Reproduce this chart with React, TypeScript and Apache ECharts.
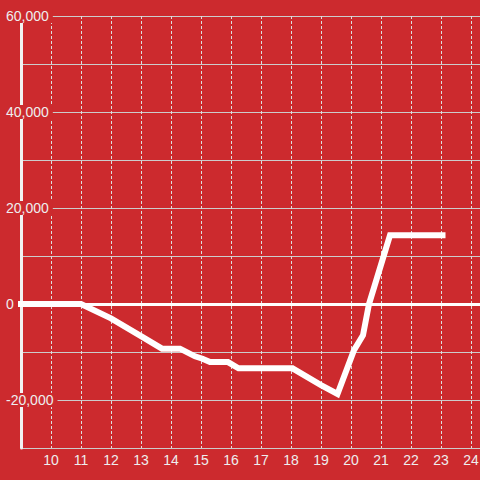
import React, { useEffect, useRef } from 'react';
import * as echarts from 'echarts';

// x positions (hours) and values of the line
const hours = [8.88, 11, 12, 13, 13.7, 14.3, 14.8, 15.05, 15.3, 15.9, 16.25, 18.05, 19, 19.55, 20.1, 20.4, 20.6, 21.3, 23.15];
const values = [0, 0, -3000, -6700, -9300, -9300, -10900, -11400, -12100, -12100, -13400, -13400, -16900, -18750, -9600, -6500, 0, 14300, 14300];

// y tick values that carry a label
const yLabelValues = [60000, 40000, 20000, 0, -20000];

const BG = '#cc2a2e';
const FONT = '"Liberation Sans", Arial, sans-serif';

export default function App() {
  const ref = useRef<HTMLDivElement>(null);

  useEffect(() => {
    if (!ref.current) return;
    const chart = echarts.init(ref.current, undefined, { renderer: 'svg' });
    chart.setOption({
      animation: false,
      backgroundColor: BG,
      textStyle: { fontFamily: FONT },
      grid: {
        left: 21,
        right: 0,
        top: 16,
        bottom: 32,
        containLabel: false,
        outerBoundsMode: 'none',
      },
      xAxis: {
        type: 'value',
        min: 9,
        max: 24.3,
        interval: 1,
        axisLine: { show: false },
        axisTick: { show: false },
        axisLabel: {
          color: '#eeeeee',
          fontSize: 14,
          fontFamily: FONT,
          margin: 5,
          formatter: (v: number) => (Number.isInteger(v) && v > 9 ? String(v) : ''),
        },
        splitLine: { show: true, lineStyle: { color: '#dddddd', width: 1, type: [3, 2] } },
      },
      yAxis: {
        type: 'value',
        min: -30000,
        max: 60000,
        interval: 10000,
        axisLine: { show: true, lineStyle: { color: '#f2f2f2', width: 3 } },
        axisTick: { show: false },
        axisLabel: {
          margin: 17,
          align: 'left',
          formatter: (v: number) =>
            yLabelValues.includes(v) ? `{a|${v.toLocaleString('en-US')}}` : '',
          rich: {
            a: {
              color: '#eeeeee',
              fontSize: 14,
              fontFamily: FONT,
              backgroundColor: BG,
              padding: [0, 4, 0, 2],
              lineHeight: 15,
            },
          },
        },
        splitLine: { show: true, lineStyle: { color: '#cccccc', width: 1 } },
      },
      series: [
        {
          type: 'line',
          data: hours.map((h, i) => [h, values[i]]),
          symbol: 'none',
          showSymbol: false,
          clip: false,
          lineStyle: { color: '#ffffff', width: 6, join: 'miter', cap: 'butt' },
          markLine: {
            silent: true,
            symbol: ['none', 'none'],
            label: { show: false },
            lineStyle: { color: '#ffffff', width: 3, type: 'solid' },
            data: [{ yAxis: 0 }],
          },
        },
      ],
    });
    return () => chart.dispose();
  }, []);

  return (
    <div
      ref={ref}
      style={{ position: 'fixed', left: 0, top: 0, width: 480, height: 480 }}
    />
  );
}
